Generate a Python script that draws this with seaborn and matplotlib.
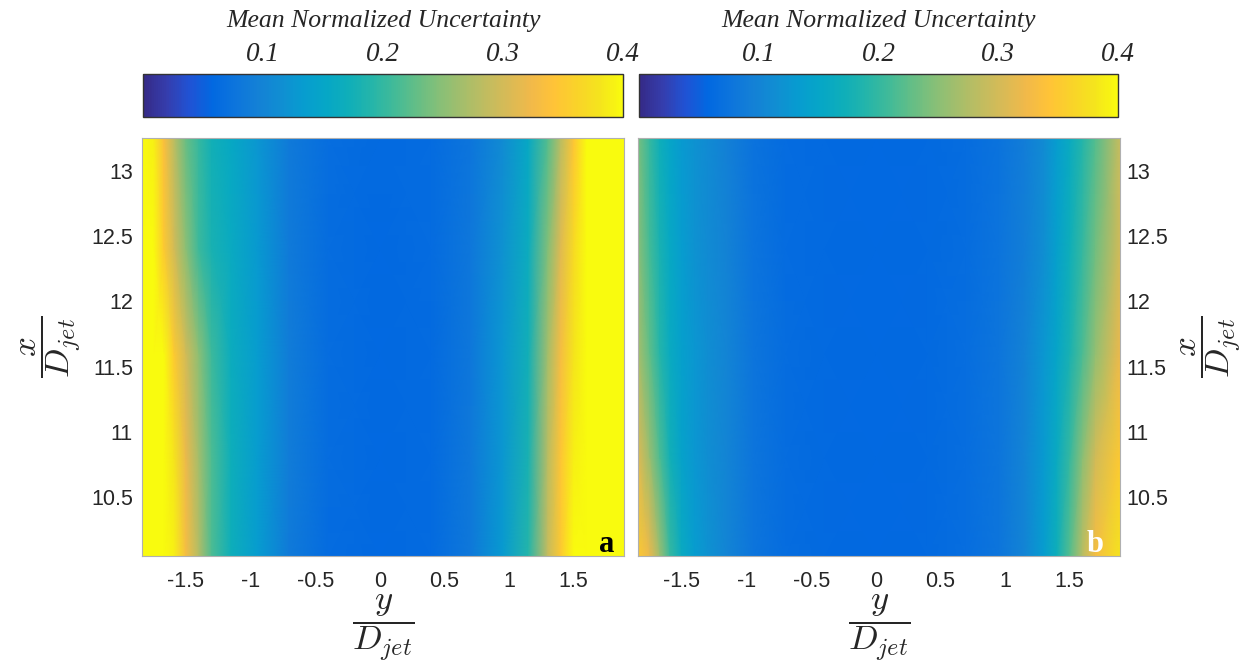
import numpy as np
import matplotlib
matplotlib.use("Agg")
import matplotlib.pyplot as plt
import seaborn as sns

# Anchor colours of a parula-style colour map (evenly spaced)
PARULA = [
    (0.2081, 0.1663, 0.5292), (0.2081, 0.2386, 0.6771), (0.1253, 0.3242, 0.8303),
    (0.0060, 0.4086, 0.8828), (0.0498, 0.4586, 0.8641), (0.0779, 0.5040, 0.8384),
    (0.0641, 0.5570, 0.8240), (0.0265, 0.6137, 0.8135), (0.0228, 0.6535, 0.7768),
    (0.0590, 0.6838, 0.7254), (0.1453, 0.7098, 0.6646), (0.2586, 0.7317, 0.5954),
    (0.3953, 0.7459, 0.5244), (0.5300, 0.7491, 0.4661), (0.6473, 0.7456, 0.4188),
    (0.7525, 0.7384, 0.3768), (0.8507, 0.7299, 0.3360), (0.9450, 0.7261, 0.2886),
    (0.9990, 0.7653, 0.2164), (0.9789, 0.8271, 0.1633), (0.9589, 0.8949, 0.1132),
    (0.9763, 0.9831, 0.0538),
]

# Grid: spanwise positions y/D_jet (columns) and streamwise stations x/D_jet (rows)
y_pos = [-1.84, -1.75, -1.67, -1.59, -1.50, -1.40, -1.30, -1.15, -0.95, -0.70, -0.40,
         0.0, 0.40, 0.70, 0.95, 1.15, 1.30, 1.40, 1.50, 1.60, 1.70, 1.89]
x_pos = [10.05, 10.8, 11.6, 12.4, 13.25]

# Panel a: mean normalized uncertainty, one list per streamwise station
unc_a_1005 = [0.44, 0.43, 0.42, 0.39, 0.33, 0.275, 0.215, 0.17, 0.135, 0.085, 0.064,
              0.058, 0.062, 0.082, 0.13, 0.19, 0.29, 0.35, 0.40, 0.42, 0.43, 0.44]
unc_a_1080 = [0.44, 0.43, 0.42, 0.38, 0.32, 0.265, 0.215, 0.17, 0.135, 0.088, 0.065,
              0.058, 0.062, 0.082, 0.125, 0.18, 0.28, 0.345, 0.39, 0.42, 0.43, 0.44]
unc_a_1160 = [0.43, 0.42, 0.40, 0.35, 0.30, 0.25, 0.205, 0.165, 0.135, 0.088, 0.065,
              0.058, 0.062, 0.080, 0.125, 0.175, 0.265, 0.33, 0.38, 0.41, 0.43, 0.44]
unc_a_1240 = [0.43, 0.40, 0.35, 0.30, 0.25, 0.205, 0.18, 0.16, 0.13, 0.085, 0.065,
              0.058, 0.063, 0.080, 0.12, 0.165, 0.245, 0.31, 0.37, 0.405, 0.42, 0.43]
unc_a_1325 = [0.42, 0.39, 0.335, 0.28, 0.23, 0.20, 0.175, 0.155, 0.125, 0.085, 0.066,
              0.060, 0.064, 0.078, 0.11, 0.155, 0.22, 0.28, 0.345, 0.40, 0.42, 0.43]

# Panel b
unc_b_1005 = [0.35, 0.32, 0.26, 0.20, 0.16, 0.135, 0.12, 0.10, 0.078, 0.065, 0.060,
              0.058, 0.060, 0.066, 0.078, 0.10, 0.135, 0.17, 0.22, 0.28, 0.33, 0.38]
unc_b_1080 = [0.31, 0.26, 0.215, 0.175, 0.145, 0.125, 0.115, 0.10, 0.078, 0.065, 0.060,
              0.058, 0.060, 0.066, 0.078, 0.10, 0.13, 0.16, 0.20, 0.25, 0.30, 0.35]
unc_b_1160 = [0.27, 0.225, 0.19, 0.16, 0.14, 0.125, 0.115, 0.10, 0.078, 0.065, 0.060,
              0.058, 0.060, 0.066, 0.078, 0.097, 0.125, 0.15, 0.18, 0.215, 0.255, 0.32]
unc_b_1240 = [0.25, 0.21, 0.18, 0.155, 0.135, 0.12, 0.11, 0.097, 0.076, 0.064, 0.060,
              0.058, 0.060, 0.065, 0.076, 0.092, 0.115, 0.14, 0.17, 0.20, 0.235, 0.30]
unc_b_1325 = [0.24, 0.20, 0.17, 0.15, 0.13, 0.12, 0.11, 0.095, 0.075, 0.064, 0.060,
              0.058, 0.060, 0.065, 0.075, 0.09, 0.11, 0.135, 0.16, 0.19, 0.22, 0.29]

cbar_ticks = [0.1, 0.2, 0.3, 0.4]
cbar_labels = ["0.1", "0.2", "0.3", "0.4"]
x_ticks = [-1.5, -1, -0.5, 0, 0.5, 1, 1.5]
x_ticklabels = ["-1.5", "-1", "-0.5", "0", "0.5", "1", "1.5"]
y_ticks = [10.5, 11, 11.5, 12, 12.5, 13]
y_ticklabels = ["10.5", "11", "11.5", "12", "12.5", "13"]
panel_letters = ["a", "b"]

sns.set_style("white")
plt.rcParams["font.family"] = ["Liberation Sans", "DejaVu Sans"]
plt.rcParams["mathtext.fontset"] = "cm"

cmap = sns.blend_palette(PARULA, as_cmap=True)
VMIN, VMAX = 0.0, 0.4
TEXT = "#262626"
SERIF = "Liberation Serif"

W, H = 1256, 668
fig = plt.figure(figsize=(W / 100, H / 100), dpi=100)


def frac(left, top, right, bottom):
    return [left / W, 1 - bottom / H, (right - left) / W, (bottom - top) / H]


panels = [
    dict(ax=frac(142, 138, 624, 556), cax=frac(143, 74, 623, 117),
         grid=[unc_a_1005, unc_a_1080, unc_a_1160, unc_a_1240, unc_a_1325],
         side="left", letter_color="black", letter_x=0.981),
    dict(ax=frac(638, 138, 1120, 556), cax=frac(639, 74, 1118, 117),
         grid=[unc_b_1005, unc_b_1080, unc_b_1160, unc_b_1240, unc_b_1325],
         side="right", letter_color="white", letter_x=0.966),
]

Yg, Xg = np.meshgrid(y_pos, x_pos)

for letter, p in zip(panel_letters, panels):
    ax = fig.add_axes(p["ax"])
    C = np.array(p["grid"])
    mesh = ax.pcolormesh(Yg, Xg, C, shading="gouraud", cmap=cmap,
                         vmin=VMIN, vmax=VMAX, rasterized=True)
    ax.set_xlim(y_pos[0], y_pos[-1])
    ax.set_ylim(x_pos[0], x_pos[-1])

    ax.set_xticks(x_ticks)
    ax.set_xticklabels(x_ticklabels)
    ax.set_yticks(y_ticks)
    ax.set_yticklabels(y_ticklabels)
    ax.tick_params(axis="x", length=0, pad=11, labelsize=15.5, labelcolor=TEXT)
    ax.tick_params(axis="y", length=0, labelsize=15.5, labelcolor=TEXT,
                   pad=6.5 if p["side"] == "left" else 4.5)
    for s in ax.spines.values():
        s.set_color("#b0b0b0")
        s.set_linewidth(0.8)

    ax.set_xlabel(r"$\dfrac{y}{D_{jet}}$", fontsize=25, color=TEXT, labelpad=0)
    if p["side"] == "right":
        ax.yaxis.tick_right()
        ax.yaxis.set_label_position("right")
    ax.set_ylabel(r"$\dfrac{x}{D_{jet}}$", fontsize=25, color=TEXT,
                  labelpad=6 if p["side"] == "left" else 8, rotation=90)

    ax.text(p["letter_x"], 0.01, letter, transform=ax.transAxes, ha="right",
            va="baseline", fontsize=22, fontweight="bold", family=SERIF,
            color=p["letter_color"])

    cax = fig.add_axes(p["cax"])
    cb = fig.colorbar(mesh, cax=cax, orientation="horizontal", ticks=cbar_ticks)
    cax.xaxis.set_ticks_position("top")
    cax.xaxis.set_label_position("top")
    cax.set_xticklabels(cbar_labels, family=SERIF, style="italic", fontsize=19.5,
                        color=TEXT)
    cax.tick_params(axis="x", direction="in", length=4, width=0.8, pad=5,
                    color="#333333")
    cax.set_xlabel("Mean Normalized Uncertainty", family=SERIF, style="italic",
                   fontsize=18.5, color=TEXT, labelpad=11)
    cb.outline.set_edgecolor("#333333")
    cb.outline.set_linewidth(1.0)

fig.savefig("out.png", dpi=100)
